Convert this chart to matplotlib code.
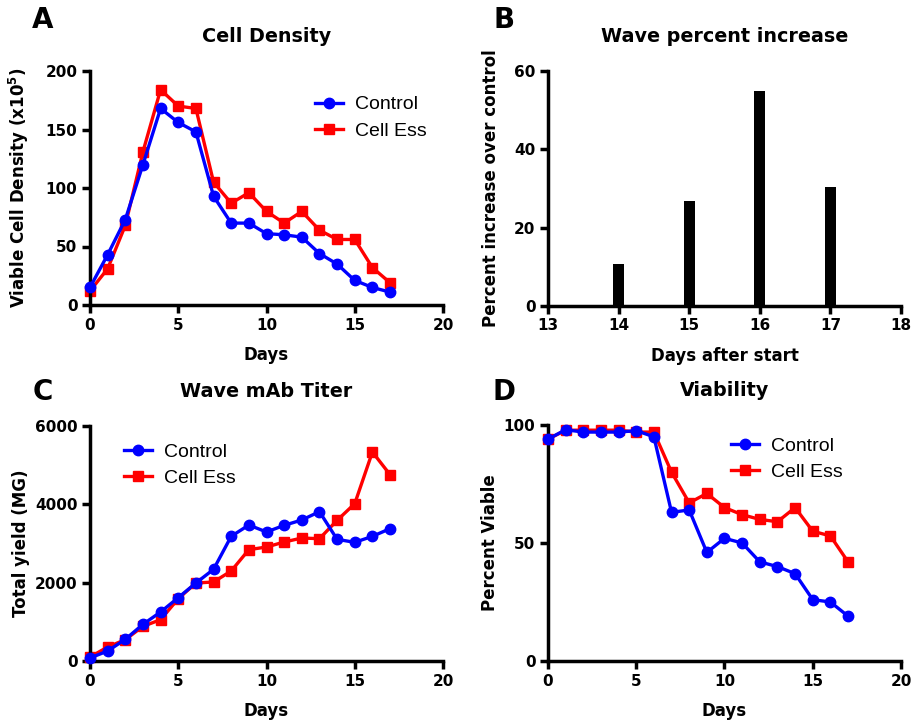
import matplotlib
matplotlib.use("Agg")
import matplotlib.pyplot as plt
import numpy as np

plt.rcParams['font.family'] = ['Liberation Sans', 'DejaVu Sans']
plt.rcParams['mathtext.fontset'] = 'dejavusans'

days = list(range(18))

density_control = [15, 43, 73, 120, 168, 156, 148, 93, 70, 70, 61, 60, 58, 44, 35, 21, 15, 11]
density_cellEss = [12, 31, 68, 131, 184, 170, 168, 105, 87, 96, 80, 70, 80, 64, 56, 56, 32, 19]

bar_days = [14, 15, 16, 17]
bar_pct = [10.6, 26.8, 55, 30.3]

titer_control = [77, 255, 553, 936, 1251, 1617, 1991, 2340, 3183, 3472, 3294, 3464, 3600, 3813, 3106, 3030, 3183, 3379]
titer_cellEss = [102, 357, 545, 885, 1055, 1591, 1991, 2017, 2298, 2843, 2910, 3038, 3140, 3123, 3591, 4017, 5336, 4757]

viab_control = [94, 98, 97, 97, 97, 97.6, 95, 63, 64, 46, 52, 50, 42, 40, 37, 26, 25, 19]
viab_cellEss = [94, 97.8, 97.8, 97.8, 97.8, 97, 97, 80, 67, 71, 65, 62, 60, 59, 65, 55, 53, 42]

W, H = 912, 724
fig = plt.figure(figsize=(W / 100, H / 100), dpi=100)

def ax_rect(l, t, r, b):
    return [l / W, 1 - b / H, (r - l) / W, (b - t) / H]

BLUE = '#0000ff'
RED = '#ff0000'
BOLD = ['DejaVu Sans']
TICKFS = 11
LABELFS = 12
TITLEFS = 13.8

def style(ax, xticks, yticks, xlim, ylim):
    for s in ['top', 'right']:
        ax.spines[s].set_visible(False)
    for s in ['left', 'bottom']:
        ax.spines[s].set_linewidth(2.5)
    ax.set_xlim(*xlim)
    ax.set_ylim(*ylim)
    ax.set_xticks(xticks)
    ax.set_yticks(yticks)
    ax.tick_params(direction='out', length=6, width=2.5, labelsize=TICKFS, pad=3)
    for lab in ax.get_xticklabels() + ax.get_yticklabels():
        lab.set_fontweight('bold')
        lab.set_family(BOLD)

def labels(ax, xl, yl, title, ylx):
    ax.set_xlabel(xl, fontsize=LABELFS, fontweight='bold', family=BOLD, labelpad=10)
    ax.set_ylabel(yl, fontsize=LABELFS, fontweight='bold', family=BOLD)
    ax.yaxis.set_label_coords(ylx, 0.5)
    ax.set_title(title, fontsize=TITLEFS, fontweight='bold', family=BOLD, pad=21)

def lines(ax, yc, ye):
    ax.plot(days, yc, color=BLUE, lw=2.4, marker='o', ms=7.5, clip_on=False, label='Control', zorder=3)
    ax.plot(days, ye, color=RED, lw=2.4, marker='s', ms=7.5, clip_on=False, label='Cell Ess', zorder=2)

def legend(ax, x, y):
    ax.legend(loc='center left', bbox_to_anchor=(x, y), frameon=False, fontsize=14,
              borderpad=0, handlelength=1.45, handletextpad=0.6, labelspacing=0.45,
              borderaxespad=0)

# Panel A
axA = fig.add_axes(ax_rect(90, 71, 443, 305))
lines(axA, density_control, density_cellEss)
style(axA, [0, 5, 10, 15, 20], [0, 50, 100, 150, 200], (0, 20), (0, 200))
labels(axA, 'Days', 'Viable Cell Density (x10$^{\\mathbf{5}}$)', 'Cell Density', -0.167)
legend(axA, 0.637, 0.80)

# Panel B
axB = fig.add_axes(ax_rect(548, 71, 901, 306))
axB.bar(bar_days, bar_pct, width=0.16, color='black', zorder=2)
style(axB, [13, 14, 15, 16, 17, 18], [0, 20, 40, 60], (13, 18), (0, 60))
labels(axB, 'Days after start', 'Percent increase over control', 'Wave percent increase', -0.136)

# Panel C
axC = fig.add_axes(ax_rect(90, 426, 443, 661))
lines(axC, titer_control, titer_cellEss)
style(axC, [0, 5, 10, 15, 20], [0, 2000, 4000, 6000], (0, 20), (0, 6000))
labels(axC, 'Days', 'Total yield (MG)', 'Wave mAb Titer', -0.170)
legend(axC, 0.096, 0.834)

# Panel D
axD = fig.add_axes(ax_rect(548, 425, 901, 661))
lines(axD, viab_control, viab_cellEss)
style(axD, [0, 5, 10, 15, 20], [0, 50, 100], (0, 20), (0, 100))
labels(axD, 'Days', 'Percent Viable', 'Viability', -0.139)
legend(axD, 0.518, 0.856)

# Panel letters
for letter, x, y in [('A', 43, 20), ('B', 504, 20), ('C', 43, 392), ('D', 504, 392)]:
    fig.text(x / W, 1 - y / H, letter, fontsize=20, fontweight='bold', family=BOLD,
             ha='center', va='center')

fig.savefig('out.png', dpi=100)
